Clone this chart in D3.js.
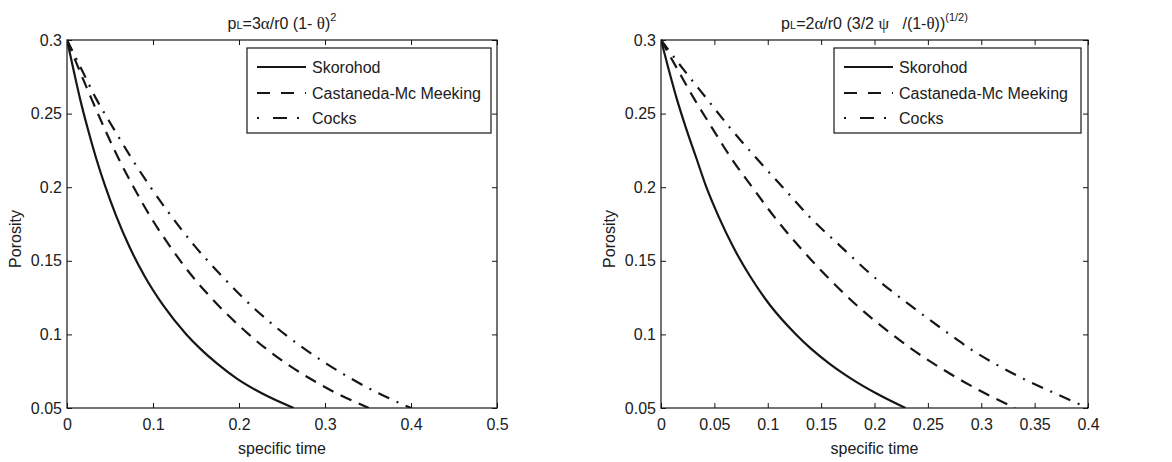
<!DOCTYPE html>
<html>
<head>
<meta charset="utf-8">
<script src="https://cdn.jsdelivr.net/npm/d3@7"></script>
<style>
  html, body { margin: 0; padding: 0; background: #fff; }
  svg { display: block; font-family: "Liberation Sans", Arial, sans-serif; }
</style>
</head>
<body>
<svg id="chart" width="1172" height="462"></svg>
<script>
// ---- Porosity vs specific time, two sintering-pressure models ----

// Common axis settings
const yTicks = [0.05, 0.1, 0.15, 0.2, 0.25, 0.3];
const yTickLabels = ["0.05", "0.1", "0.15", "0.2", "0.25", "0.3"];
const seriesNames = ["Skorohod", "Castaneda-Mc Meeking", "Cocks"];

// Porosity levels at which each curve's time is tabulated
const porosity = [0.3, 0.28, 0.26, 0.24, 0.22, 0.2, 0.18, 0.16, 0.14, 0.12, 0.1, 0.09, 0.08, 0.07, 0.06, 0.05];

// Left panel: pL = 3α/r0 (1-θ)^2
const xTicksA = [0, 0.1, 0.2, 0.3, 0.4, 0.5];
const xTickLabelsA = ["0", "0.1", "0.2", "0.3", "0.4", "0.5"];
const skorohodA = [0, 0.0075, 0.0152, 0.024, 0.0337, 0.0448, 0.0575, 0.0722, 0.0898, 0.1115, 0.1388, 0.1555, 0.175, 0.1975, 0.2265, 0.2636];
const castanedaA = [0, 0.014, 0.0285, 0.0435, 0.0595, 0.0775, 0.097, 0.1195, 0.145, 0.1755, 0.2114, 0.232, 0.2555, 0.2825, 0.3135, 0.351];
const cocksA = [0, 0.017, 0.034, 0.054, 0.0747, 0.0972, 0.1217, 0.1486, 0.1795, 0.2134, 0.2535, 0.2766, 0.302, 0.3302, 0.3623, 0.4];

// Right panel: pL = 2α/r0 (3/2 ψ /(1-θ))^(1/2)
const xTicksB = [0, 0.05, 0.1, 0.15, 0.2, 0.25, 0.3, 0.35, 0.4];
const xTickLabelsB = ["0", "0.05", "0.1", "0.15", "0.2", "0.25", "0.3", "0.35", "0.4"];
const skorohodB = [0, 0.0072, 0.0148, 0.0235, 0.033, 0.0425, 0.054, 0.0672, 0.083, 0.102, 0.1265, 0.141, 0.158, 0.178, 0.2015, 0.229];
const castanedaB = [0, 0.0155, 0.0311, 0.0481, 0.0655, 0.0855, 0.106, 0.129, 0.1545, 0.183, 0.2165, 0.235, 0.2557, 0.2785, 0.3035, 0.3317];
const cocksB = [0, 0.021, 0.043, 0.065, 0.089, 0.114, 0.139, 0.168, 0.198, 0.233, 0.2705, 0.29, 0.313, 0.339, 0.369, 0.4];

// ---- drawing ----
const svg = d3.select("#chart");
svg.append("rect").attr("width", 1172).attr("height", 462).attr("fill", "#fff");

const INK = "#161616";
const TEXT = "#202020";
const styles = [
  { dash: null, legendDash: null, legendOffset: 0 },
  { dash: "12,8", legendDash: "13,11", legendOffset: 0 },
  { dash: "12,8,2,8", legendDash: "14,10,2,14", legendOffset: 24 }
];

const toPoints = ts => ts.map((t, i) => ({ t, p: porosity[i] }));

const panels = [
  {
    id: "a", left: 67, right: 497, xDomain: [0, 0.5],
    xTicks: xTicksA, xLabels: xTickLabelsA,
    series: [toPoints(skorohodA), toPoints(castanedaA), toPoints(cocksA)],
    legend: { x0: 247, x1: 491 },
    title: [
      { s: "p" }, { s: "L", size: 11 }, { s: "=3" }, { s: "α", serif: true }, { s: "/r0 (1- " },
      { s: "θ", serif: true }, { s: ")" }, { s: "2", size: 11, sup: true }
    ]
  },
  {
    id: "b", left: 661, right: 1088, xDomain: [0, 0.4],
    xTicks: xTicksB, xLabels: xTickLabelsB,
    series: [toPoints(skorohodB), toPoints(castanedaB), toPoints(cocksB)],
    legend: { x0: 834, x1: 1081 },
    title: [
      { s: "p" }, { s: "L", size: 11 }, { s: "=2" }, { s: "α", serif: true }, { s: "/r0 (3/2 " },
      { s: "ψ", serif: true }, { s: "   /(1-" }, { s: "θ", serif: true }, { s: "))" },
      { s: "(1/2)", size: 11, sup: true }
    ]
  }
];

const TOP = 40, BOTTOM = 408;

panels.forEach(P => {
  const x = d3.scaleLinear().domain(P.xDomain).range([P.left, P.right]);
  const y = d3.scaleLinear().domain([0.05, 0.3]).range([BOTTOM, TOP]);
  const g = svg.append("g");

  g.append("clipPath").attr("id", "clip-" + P.id)
    .append("rect").attr("x", P.left).attr("y", TOP - 2)
    .attr("width", P.right - P.left + 2).attr("height", BOTTOM - TOP + 2);

  // curves
  const line = d3.line().x(d => x(d.t)).y(d => y(d.p)).curve(d3.curveMonotoneX);
  const curves = g.append("g").attr("clip-path", "url(#clip-" + P.id + ")");
  P.series.forEach((data, i) => {
    curves.append("path").datum(data)
      .attr("d", line)
      .attr("fill", "none")
      .attr("stroke", INK)
      .attr("stroke-width", 2.2)
      .attr("stroke-dasharray", styles[i].dash);
  });

  // axes with inward ticks on all four sides
  const axB = d3.axisBottom(x).tickValues(P.xTicks).tickFormat((d, i) => P.xLabels[i]).tickSize(-5).tickPadding(11);
  const axT = d3.axisTop(x).tickValues(P.xTicks).tickFormat("").tickSize(-5);
  const axL = d3.axisLeft(y).tickValues(yTicks).tickFormat((d, i) => yTickLabels[i]).tickSize(-5).tickPadding(5);
  const axR = d3.axisRight(y).tickValues(yTicks).tickFormat("").tickSize(-5);

  const styleAxis = sel => {
    sel.select(".domain").remove();
    sel.selectAll(".tick line").attr("stroke", INK);
    sel.selectAll(".tick text").attr("fill", TEXT).attr("font-size", 16)
      .attr("font-family", "'Liberation Sans', Arial, sans-serif");
  };
  g.append("g").attr("transform", `translate(0,${BOTTOM})`).call(axB).call(styleAxis);
  g.append("g").attr("transform", `translate(0,${TOP})`).call(axT).call(styleAxis);
  g.append("g").attr("transform", `translate(${P.left},0)`).call(axL).call(styleAxis);
  g.append("g").attr("transform", `translate(${P.right},0)`).call(axR).call(styleAxis);

  g.append("rect")
    .attr("x", P.left).attr("y", TOP)
    .attr("width", P.right - P.left).attr("height", BOTTOM - TOP)
    .attr("fill", "none").attr("stroke", INK).attr("stroke-width", 1.2);

  // axis labels
  const cx = (P.left + P.right) / 2;
  g.append("text").attr("x", cx).attr("y", 454)
    .attr("text-anchor", "middle").attr("font-size", 16).attr("fill", TEXT)
    .text("specific time");
  g.append("text")
    .attr("transform", `translate(${P.left - 46},${239}) rotate(-90)`)
    .attr("text-anchor", "middle").attr("font-size", 16).attr("fill", TEXT)
    .text("Porosity");

  // title
  const title = g.append("text").attr("x", cx).attr("y", 29)
    .attr("text-anchor", "middle").attr("font-size", 16).attr("fill", TEXT)
    .attr("xml:space", "preserve").style("white-space", "pre");
  P.title.forEach(part => {
    const ts = title.append("tspan").text(part.s);
    if (part.size) ts.attr("font-size", part.size);
    if (part.serif) ts.attr("font-family", "'Liberation Serif', 'DejaVu Serif', serif").attr("font-size", 17);
    if (part.sup) ts.attr("dy", -8);
  });

  // legend
  const L = P.legend;
  const lg = g.append("g");
  lg.append("rect")
    .attr("x", L.x0).attr("y", 48)
    .attr("width", L.x1 - L.x0).attr("height", 85)
    .attr("fill", "#fff").attr("stroke", INK).attr("stroke-width", 1.2);
  const rowY = [67, 93, 118];
  seriesNames.forEach((name, i) => {
    lg.append("line")
      .attr("x1", L.x0 + 10).attr("x2", L.x0 + 59)
      .attr("y1", rowY[i]).attr("y2", rowY[i])
      .attr("stroke", INK).attr("stroke-width", 2.2)
      .attr("stroke-dasharray", styles[i].legendDash)
      .attr("stroke-dashoffset", styles[i].legendOffset);
    lg.append("text")
      .attr("x", L.x0 + 65).attr("y", rowY[i] + 5.5)
      .attr("font-size", 16).attr("fill", TEXT)
      .text(name);
  });
});
</script>
</body>
</html>
